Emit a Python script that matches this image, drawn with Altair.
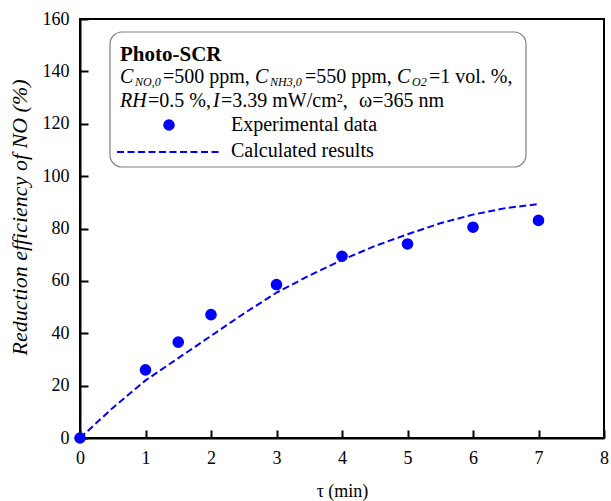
import altair as alt
import pandas as pd

# data
tau_exp = [0, 1, 1.5, 2, 3, 4, 5, 6, 7]
eff_exp = [0, 26, 36.6, 47.1, 58.6, 69.4, 74.1, 80.5, 83.1]

tau_calc = [0, 0.5, 1, 1.5, 2, 2.5, 3, 3.5, 4, 4.5, 5, 5.5, 6, 6.5, 7]
eff_calc = [0, 11.5, 22, 30.5, 39, 47.5, 55.5, 62, 68, 73.3, 77.8, 82, 85.3, 87.8, 89.3]

x_ticks = [0, 1, 2, 3, 4, 5, 6, 7, 8]
y_ticks = [0, 20, 40, 60, 80, 100, 120, 140, 160]

W, H = 524, 419
FONT = "Liberation Serif"
BLUE = "#0000FF"

xs = alt.Scale(domain=[0, 8], nice=False)
ys = alt.Scale(domain=[0, 160], nice=False)

exp_df = pd.DataFrame({"tau": tau_exp, "eff": eff_exp})
calc_df = pd.DataFrame({"tau": tau_calc, "eff": eff_calc})

x_axis = alt.Axis(values=x_ticks, title="τ (min)", grid=False, ticks=False, format="d",
                  orient="bottom",
                  labelFont=FONT, labelFontSize=18, labelColor="black", labelPadding=11,
                  domainColor="black", domainWidth=2, titleFont=FONT, titleFontSize=18,
                  titleFontWeight="normal", titleColor="black", titleY=58,
                  titleBaseline="alphabetic", labelFlush=False)
y_axis = alt.Axis(values=y_ticks, title="Reduction efficiency of NO (%)", grid=False, ticks=False,
                  format="d", orient="left",
                  labelFont=FONT, labelFontSize=18, labelColor="black", labelPadding=11,
                  domainColor="black", domainWidth=2, titleFont=FONT, titleFontSize=22,
                  titleFontStyle="italic", titleFontWeight="normal", titleColor="black",
                  titleAngle=270, titleX=-54, titleY=198, titleAlign="center",
                  titleBaseline="alphabetic", labelFlush=False)

# inward ticks: a second, label-less axis shifted into the plot
x_tick_axis = alt.Axis(values=x_ticks, orient="bottom", offset=-8, tickSize=8, tickWidth=2,
                       tickColor="black", labels=False, domain=False, grid=False, title=None)
y_tick_axis = alt.Axis(values=y_ticks, orient="left", offset=-8, tickSize=8, tickWidth=2,
                       tickColor="black", labels=False, domain=False, grid=False, title=None)

line = alt.Chart(calc_df).mark_line(color=BLUE, strokeWidth=2, strokeDash=[7, 3.5], clip=False).encode(
    x=alt.X("tau:Q", scale=xs, axis=x_axis),
    y=alt.Y("eff:Q", scale=ys, axis=y_axis),
)
pts = alt.Chart(exp_df).mark_point(filled=True, color=BLUE, size=135, opacity=1, clip=False).encode(
    x=alt.X("tau:Q", scale=xs, axis=x_tick_axis),
    y=alt.Y("eff:Q", scale=ys, axis=y_tick_axis),
)

one = pd.DataFrame({"a": [0]})
OX, OY = 80, 19

box = alt.Chart(one).mark_rect(fill="white", stroke="#808080", strokeWidth=1.2, cornerRadius=12).encode(
    x=alt.value(110 - OX), x2=alt.value(526 - OX), y=alt.value(32 - OY), y2=alt.value(167 - OY))


def txt(s, x, y, size=20, style="normal", weight="normal"):
    return alt.Chart(one).mark_text(text=s, font=FONT, fontSize=size, fontStyle=style,
                                    fontWeight=weight, align="left", baseline="alphabetic",
                                    color="black").encode(x=alt.value(x - OX), y=alt.value(y - OY))


texts = [
    txt("Photo-SCR", 120, 61, size=21, weight="bold"),
    txt("C", 120, 83, style="italic"),
    txt("NO,0", 135, 86, size=12, style="italic"),
    txt("=500 ppm,", 163, 83),
    txt("C", 255, 83, style="italic"),
    txt("NH3,0", 270, 86, size=12, style="italic"),
    txt("=550 ppm,", 305, 83),
    txt("C", 397, 83, style="italic"),
    txt("O2", 412, 86, size=12, style="italic"),
    txt("=1 vol. %,", 429, 83),
    txt("RH", 120, 107, style="italic"),
    txt("=0.5 %,", 148, 107),
    txt("I", 213, 107, style="italic"),
    txt("=3.39 mW/cm²,", 221, 107),
    txt("ω=365 nm", 359, 107),
    txt("Experimental data", 231, 131),
    txt("Calculated results", 231, 157),
]

leg_dot = alt.Chart(one).mark_point(filled=True, color=BLUE, size=135, opacity=1).encode(
    x=alt.value(169 - OX), y=alt.value(125 - OY))
leg_line = alt.Chart(one).mark_rule(color=BLUE, strokeWidth=2, strokeDash=[7, 3.5]).encode(
    x=alt.value(117 - OX), x2=alt.value(221 - OX), y=alt.value(152 - OY))

chart = alt.layer(line, pts, box, *texts, leg_dot, leg_line).resolve_axis(
    x="independent", y="independent"
).properties(
    width=W, height=H,
    autosize=alt.AutoSizeParams(type="none"),
    padding={"left": OX, "top": OY, "right": 611 - OX - W, "bottom": 501 - OY - H},
    background="white",
).configure_view(stroke="black", strokeWidth=2)

chart.save("out.html", embed_options={"renderer": "svg", "actions": False})
